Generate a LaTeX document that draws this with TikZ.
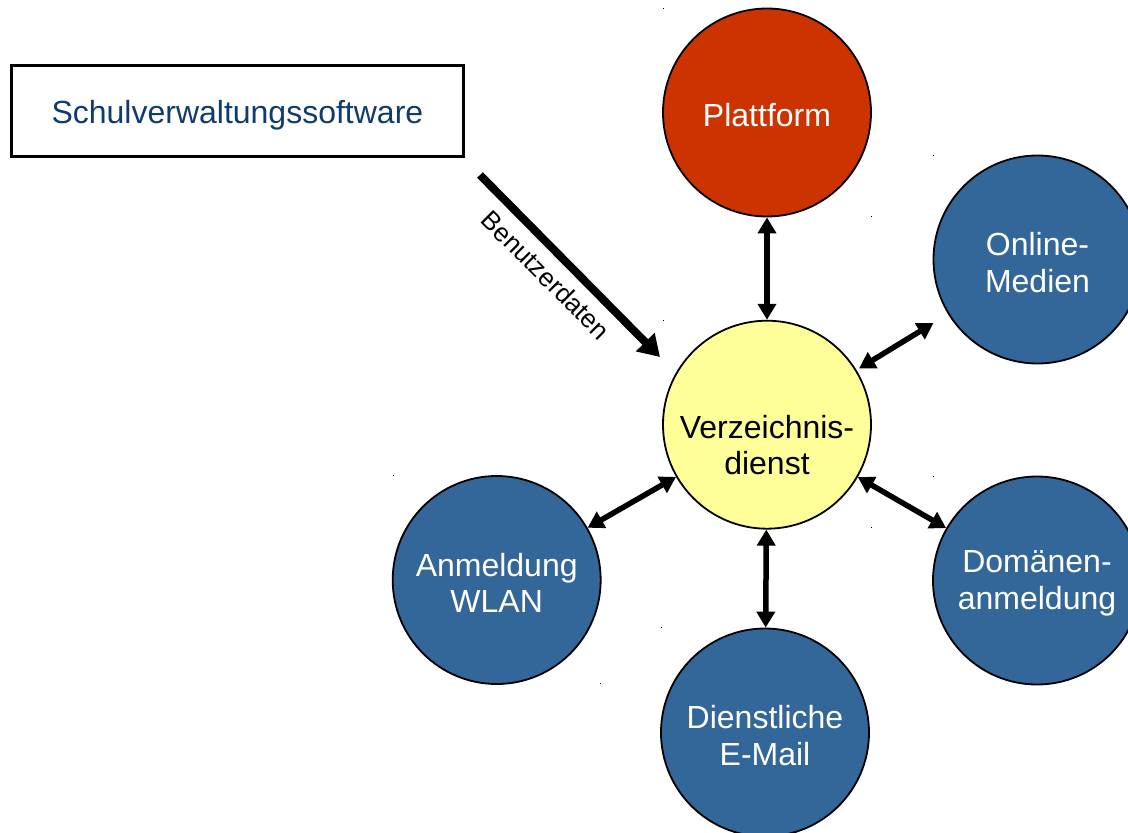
\documentclass[tikz,border=0pt]{standalone}
\usepackage{fontspec}
\setmainfont{Liberation Sans}
\usetikzlibrary{arrows.meta}
\definecolor{cred}{HTML}{CC3300}
\definecolor{cblue}{HTML}{336699}
\definecolor{cyel}{HTML}{FFFF99}
\definecolor{ctext}{HTML}{0E3C6C}
\begin{document}
\begin{tikzpicture}[x=1pt,y=-1pt,
  circ/.style={circle,draw=black,line width=1.8pt,minimum size=208pt,inner sep=0pt},
  ctxt/.style={text=white,align=center,font=\fontsize{32}{36.5}\selectfont,yshift=-3pt},
  dbl/.style={{Triangle[length=16pt,width=18pt]}-{Triangle[length=16pt,width=18pt]},line width=5.5pt},
  bigarrow/.style={-{Triangle[length=21pt,width=25pt]},line width=8pt},
  swbox/.style={draw=black,line width=3.5pt,minimum width=452pt,minimum height=91pt},
  dotmark/.style={fill=black}]
\useasboundingbox (0,0) rectangle (1128,833);
\clip (0,0) rectangle (1128,833);
\fill[white] (0,0) rectangle (1128,833);

\node[swbox,label={[ctxt,text=ctext,yshift=-1.5pt]center:Schulverwaltungssoftware}] (sw) at (237.4,111) {};

\node[circ,fill=cred,label={[ctxt]center:Plattform}] (plat) at (767,112.5) {};
\node[circ,fill=cblue,label={[ctxt]center:{Online-\\Medien}}] (online) at (1037.5,259.5) {};
\node[circ,fill=cyel] (verz) at (767,424.7) {};
\node[ctxt,text=black,yshift=3pt] (verzlbl) at (767,445) {Verzeichnis-\\dienst};
\node[circ,fill=cblue,label={[ctxt]center:{Domänen-\\anmeldung}}] (dom) at (1037,580.5) {};
\node[circ,fill=cblue,label={[ctxt]center:{Anmeldung\\WLAN}}] (wlan) at (496.7,580) {};
\node[circ,fill=cblue,label={[ctxt]center:{Dienstliche\\E-Mail}}] (mail) at (765,732.5) {};

\draw[dbl] (verz) -- (plat);
\draw[dbl,shorten <=3pt,shorten >=17pt] (verz) -- (online);
\draw[dbl] (verz) -- (dom);
\draw[dbl] (verz) -- (wlan);
\draw[dbl] (verz) -- (mail);

\coordinate (bs) at (480,175);
\coordinate (be) at (660,357);
\draw[bigarrow] (bs) -- (be);
\node[rotate=-45,font=\fontsize{26}{30}\selectfont] (lbl) at (546,275) {Benutzerdaten};

\foreach \p in {(663,8),(871,216),(933,155),(663,320),(871,527),(933,476),(393,475),(600,683),(661,627)}
  \fill[dotmark] \p rectangle ++(1.4,1.4);
\end{tikzpicture}
\end{document}
